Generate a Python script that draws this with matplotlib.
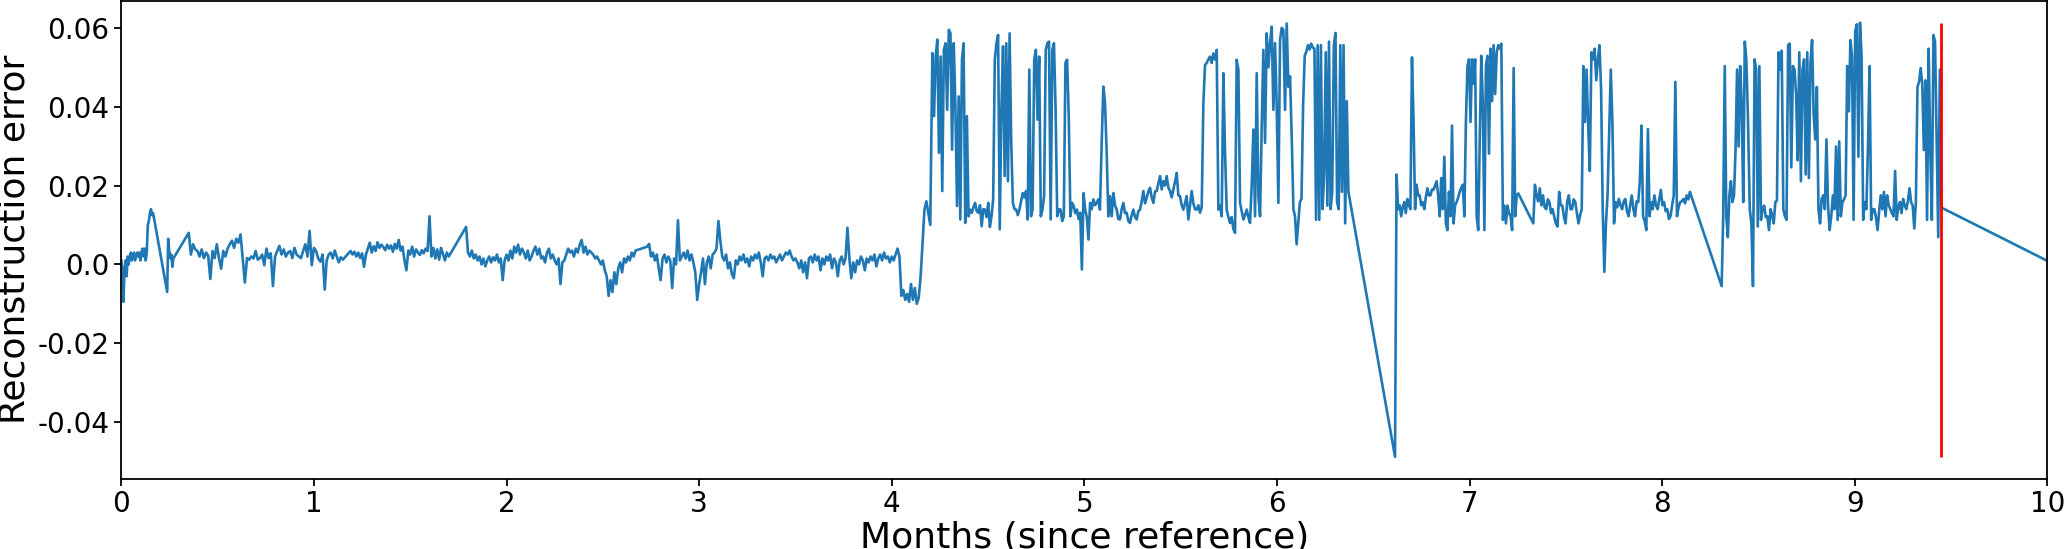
import numpy as np
import matplotlib
matplotlib.use("Agg")
import matplotlib.pyplot as plt

# reconstruction error, in units of 1e-3
# each block is evenly sampled between its start and end month;
# the straight stretches in the plot are the gaps between blocks
seg_start = [0.0, 0.238, 0.35, 1.066, 1.19, 1.79, 2.73, 4.211, 5.09, 6.077, 6.613, 7.331, 8.309, 8.455, 10.0]
seg_end = [0.165, 0.27, 1.056, 1.15, 1.70, 2.67, 4.20, 5.081, 6.068, 6.371, 7.253, 8.144, 8.445, 9.45, 10.0]

err_a = [1, -2, -9.5, -1, 1, -3, 2, 0, 2, 3, 1, 2, 3, 1, 2, 3, 2, 3, 1, 3, 4, 2, 4, 1, 3,
         10, 11, 13, 14, 12.5, 13]
err_b = [-7, 6.5, 3.4, 1.6, 2.5, -0.6, 1.5]
err_c = [8.0, 2.5, 5.1, 3.8, 3.4, 2.0, 3.8, 1.6, 3.0, 2.2, -3.7, 3.4, 1.6, 5.1, 1.6, -1.1,
         3.4, 2.0, 4.0, 5.1, 6.0, 4.2, 6.5, 5.5, 7.6, 1.6, -4.6, 1.6, 1.2, 2.0, 1.5, 3.4,
         1.2, 1.6, 2.5, -0.2, 4.0, 1.6, 2.8, -5.5, 2.0, 3.4, 4.7, 2.5, 3.8, 2.0, 3.0, 3.4,
         1.6, 4.2, 2.5, 2.0, 1.6, 3.4, 5.1, 2.0, 8.5, -0.2, 4.2, 3.4, 1.5, 0.7, 2.5, -6.4]
err_d = [1.0, 2.5, 3.0, 1.5, 3.5, 2.0, 0.5, 1.8, 1.2]
err_e = [3.4, 2.5, 3.2, 2.0, 3.0, 1.6, 2.8, -0.6, 2.5, 4.0, 5.5, 3.0, 4.6, 3.4, 5.6, 4.2,
         5.0, 4.4, 3.6, 5.0, 4.0, 4.8, 3.2, 5.2, 4.0, 6.2, 3.5, 4.5, 1.0, -1.5, 3.5, 2.5,
         4.5, 2.0, 3.8, 3.0, 2.4, 3.6, 2.8, 4.0, 3.4, 12.2, 2.0, 4.2, 1.5, 3.8, 1.2, 4.2,
         2.6, 1.0, 3.0, 2.0]
err_f = [9.5, 3.0, 2.0, 3.5, 1.5, 2.5, 1.0, 2.0, 0.0, 1.5, -0.5, 1.0, 2.0, 0.5, 1.8, 1.0,
         2.5, 0.5, 1.5, -4.0, 1.0, 2.5, 1.0, 3.5, 1.5, 4.5, 3.0, 5.0, 2.5, 4.0, 3.0, 1.5,
         3.5, 1.0, 2.0, 3.5, 4.5, 2.5, 4.0, 1.5, 2.0, 0.5, 3.0, 4.0, 1.5, 2.5, 1.0, 0.0,
         1.5, -5.0, 0.5, 1.0, 2.5, 4.0, 3.0, 3.5, 2.0, 4.0, 3.0, 5.0, 6.2, 3.0, 4.5, 2.5,
         3.5, 3.0, 2.5, 1.5, 2.0, 1.0, 0.0, 1.0, -1.5, -3.0, -8.0, -4.0, -7.0, -2.0, -5.0,
         -1.0, 0.5, -2.0, 1.5, 0.5, 2.0, 1.0, 3.0, 2.0, 3.5]
err_g = [4.5, 5.2, 2.0, 3.0, 1.0, 2.5, -1.0, -4.0, 1.5, 2.5, 0.5, 2.0, 1.0, -6.0, 1.5, 0.0,
         11.2, 1.0, 2.0, 3.0, 1.5, 3.5, 1.0, 2.5, 0.5, -2.0, -9.0, -5.0, -2.0, 1.5, -5.0, 0.5,
         2.0, -1.0, 2.5, 3.0, 4.0, 11.0, 6.0, 2.0, 1.0, 2.5, -1.0, 0.5, -2.5, -3.5, 1.0, 0.0,
         2.0, 1.0, 2.5, 0.5, 1.5, -0.5, 2.0, 1.0, 2.5, 1.5, 3.0, 0.5, -3.0, 1.5, 2.0, 1.0,
         2.5, 1.5, 2.0, 0.5, 1.5, 2.5, 1.0, 2.0, 3.0, 2.5, 3.5, 2.0, 1.0, 1.5, 0.5, -1.0,
         1.0, -2.0, 0.5, -3.5, 1.5, 2.0, 0.5, 2.5, 1.0, 2.0, -1.5, 1.5, 0.0, 2.0, 1.0, 2.5,
         -1.0, 1.5, 0.5, -3.0, 1.0, 2.0, 0.0, 1.5, 9.3, 1.5, -3.5, 0.5, -2.0, 1.0, 0.0, 2.0,
         1.0, -1.5, 1.5, 0.5, 2.0, 1.0, 2.5, -0.5, 1.5, 2.5, 1.0, 3.0, 1.5, 2.0, 0.5, 2.0,
         1.0, 2.5, 4.0, 2.0, -8.0, -6.5, -9.0, -7.5, -9.5, -5.0, -9.0, -6.0, -10.0, -8.5,
         -3.0, 5.5, 14.0, 16.0, 13.0, 10.0]
err_h = [53.6, 37.6, 52.7, 57.0, 28.3, 52.7, 18.6, 54.4, 56.1, 39.2, 59.5, 58.6, 29.1, 56.1,
         40.1, 14.8, 42.6, 11.4, 51.9, 56.1, 10.5, 37.6, 12.2, 13.9, 13.1, 14.5, 15.6, 13.5,
         13.1, 15.0, 9.7, 14.0, 13.9, 12.0, 15.6, 9.5, 12.2, 16.5, 51.9, 56.1, 58.2, 8.9,
         39.2, 55.3, 22.4, 56.1, 21.1, 58.6, 30.8, 15.6, 14.0, 13.9, 12.5, 13.9, 16.0, 18.1,
         17.0, 18.6, 11.4, 49.4, 12.2, 13.9, 51.9, 54.4, 36.7, 52.7, 12.2, 13.9, 17.3, 54.4,
         56.1, 56.5, 11.4, 54.4, 56.1, 39.2, 12.2, 14.0, 13.9, 11.0, 12.2, 51.1, 51.9, 37.6,
         12.2, 15.6, 14.8, 13.0, 13.9, 11.5, 13.1, -1.3, 18.1, 13.9, 12.0, 6.3, 15.6, 14.0,
         16.5, 15.0, 15.6, 16.5, 13.9]
err_i = [30.8, 45.1, 41.0, 28.3, 12.2, 17.3, 12.2, 18.1, 15.0, 13.9, 11.5, 11.4, 14.0, 15.6,
         13.0, 13.1, 11.0, 10.5, 12.5, 13.9, 12.0, 11.4, 13.5, 13.9, 16.0, 18.6, 15.5, 16.9,
         18.5, 19.4, 17.0, 15.6, 18.5, 18.6, 20.5, 22.4, 19.0, 21.1, 20.0, 22.4, 19.5, 18.6,
         17.0, 19.0, 21.0, 23.2, 17.5, 17.3, 15.0, 13.9, 15.5, 17.3, 11.4, 15.0, 18.6, 15.5,
         14.0, 13.9, 15.0, 13.1, 14.5, 40.9, 50.6, 51.1, 52.0, 52.7, 51.1, 53.5, 52.0, 54.4,
         13.9, 15.0, 12.2, 48.5, 28.3, 13.9, 12.0, 10.5, 12.0, 9.0, 8.0, 51.9, 49.4, 15.6,
         13.5, 11.4, 12.5, 13.9, 12.0, 10.5, 20.0, 34.2, 12.2, 48.5, 17.3, 12.2, 35.0, 54.4,
         30.8, 58.6, 50.0, 56.1, 60.3, 39.2, 56.1, 40.0, 15.6, 56.9, 60.0, 59.5, 39.2, 61.1,
         45.0, 47.7]
err_j = [31.7, 14.0, 12.2, 5.1, 10.4, 15.8, 16.6, 40.5, 52.9, 54.0, 55.6, 54.5, 56.0, 55.0,
         54.7, 11.3, 55.6, 11.3, 55.6, 14.0, 22.8, 53.8, 14.9, 56.5, 14.0, 18.4, 55.6, 58.7,
         15.8, 14.0, 55.6, 18.4, 55.6, 10.4, 41.4, 18.4]
err_k = [-48.8, 22.8, 14.0, 15.0, 12.2, 14.5, 15.8, 13.0, 16.6, 15.0, 14.0,
         52.5, 37.0, 14.0, 20.2, 17.5, 17.5, 15.0, 15.8, 14.0, 17.0, 19.3, 17.5, 17.5, 19.0,
         18.9, 20.0, 21.1, 17.5, 12.2, 21.9, 14.0, 27.3, 10.4, 8.7, 18.4, 12.2, 35.2, 10.4,
         15.0, 15.8, 17.0, 18.4, 19.5, 20.2, 12.2, 36.1, 50.3, 52.0, 36.1, 52.0, 45.8, 52.0,
         12.2, 8.7, 31.7, 52.9, 40.5, 8.7, 50.3, 52.9, 28.1, 54.7, 41.4, 55.6, 43.2, 53.8,
         55.6, 54.7, 56.0, 11.3, 14.9, 10.4, 14.9, 13.0, 12.2, 8.7, 49.8, 12.2, 17.5, 18.0]
err_l = [10.4, 20.2, 17.5, 16.0, 19.3, 15.0, 17.5, 14.5, 14.0, 16.5, 15.8, 13.0, 14.0, 12.0,
         10.4, 9.6, 18.4, 15.0, 14.9, 12.0, 10.4, 16.0, 17.5, 14.0, 14.0, 16.5, 15.8, 13.0,
         10.4, 12.5, 14.0, 50.3, 36.1, 49.4, 35.2, 23.7, 53.8, 52.0, 54.7, 46.7, 52.0, 55.6,
         44.1, 14.0, -1.9, 10.4, 17.5, 33.5, 49.4, 36.1, 10.4, 15.8, 14.5, 16.6, 15.0, 14.0,
         16.0, 16.6, 13.5, 12.2, 15.0, 17.5, 14.0, 12.2, 16.0, 15.8, 21.1, 35.2, 12.2, 11.0,
         8.7, 34.3, 12.2, 15.8, 14.0, 17.5, 15.0, 14.0, 16.5, 18.9, 15.0, 15.8, 13.5, 14.0,
         11.5, 12.2, 15.0, 17.5, 46.3, 12.2, 14.5, 15.8, 16.0, 16.6, 15.5, 17.5, 16.5, 18.4]
err_m = [-5.5, 12.2, 50.3, 12.2, 6.9, 17.5, 21.1, 15.8, 17.5, 29.0, 49.4, 29.9, 50.3, 40.5,
         15.8, 56.5, 52.0, 38.0]
err_n = [14.0, 10.4, -5.5, 52.0, 49.4, 9.6, 50.3, 11.3, 14.0, 14.9, 12.0, 12.2, 8.7, 14.0,
         12.5, 10.4, 15.8, 16.2, 53.8, 49.4, 54.2, 14.0, 12.2, 11.3, 55.6, 56.0, 24.6, 50.3,
         49.4, 43.2, 26.4, 53.8, 21.1, 49.4, 52.0, 22.8, 53.8, 21.9, 51.2, 56.9, 37.9, 31.7,
         45.0, 14.0, 10.4, 16.6, 17.5, 14.0, 31.7, 14.9, 8.7, 12.2, 17.5, 14.0, 29.9, 11.3,
         31.2, 12.2, 15.8, 16.5, 17.5, 50.3, 38.8, 56.9, 52.9, 11.3, 59.1, 60.9, 27.3, 61.3,
         52.9, 11.3, 15.8, 14.0, 29.9, 50.3, 11.3, 14.0, 14.0, 12.0, 8.7, 13.5, 17.5, 14.0,
         18.4, 12.2, 17.5, 15.0, 14.0, 13.0, 12.2, 23.7, 11.3, 14.5, 15.8, 13.0, 16.6, 15.0,
         14.0, 16.0, 19.3, 15.8, 14.9, 9.1, 15.8, 45.0, 46.3, 49.8, 45.8, 29.0, 46.7, 11.3,
         54.7, 29.0, 11.3, 58.2, 56.5, 31.7, 6.9, 49.4, 14.4]
err_tail = [0.9]

cutoff_month = 9.45

blocks = [err_a, err_b, err_c, err_d, err_e, err_f, err_g, err_h, err_i, err_j,
          err_k, err_l, err_m, err_n, err_tail]

months = np.concatenate([np.linspace(s, e, len(v)) for s, e, v in zip(seg_start, seg_end, blocks)])
err = np.concatenate([np.array(v, dtype=float) for v in blocks]) * 1e-3

fig = plt.figure(figsize=(20.67, 5.49), dpi=100)
ax = fig.add_axes([0.0587, 0.1284, 0.9318, 0.8698])

ax.plot(months, err, color="#1f77b4", lw=1.9)
ax.vlines(cutoff_month, err.min(), err.max(), color="red", lw=2)

ax.set_xlim(0, 10)
ax.set_xticks(range(0, 11))
yt = [-0.04, -0.02, 0.0, 0.02, 0.04, 0.06]
ax.set_yticks(yt)
ax.set_yticklabels([str(t) for t in yt])
ax.tick_params(labelsize=20, width=1.3, length=5)
for sp in ax.spines.values():
    sp.set_linewidth(1.3)
ax.set_xlabel("Months (since reference)", fontsize=26, labelpad=2)
ax.set_ylabel("Reconstruction error", fontsize=26)

fig.savefig("out.png", dpi=100)
